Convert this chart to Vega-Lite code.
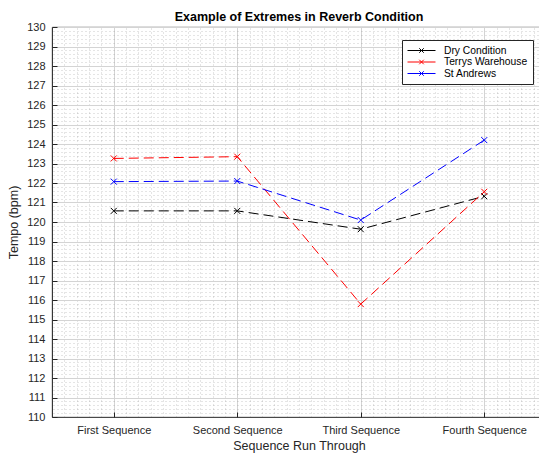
{
  "$schema": "https://vega.github.io/schema/vega-lite/v6.json",
  "width": 494,
  "height": 390,
  "autosize": {"type": "none"},
  "padding": {"left": 52, "top": 27, "right": 0, "bottom": 38},
  "config": {
    "font": "Liberation Sans",
    "view": {"stroke": "#262626", "strokeWidth": 0.8},
    "background": "white"
  },
  "title": {
    "text": "Example of Extremes in Reverb Condition",
    "fontSize": 12.5,
    "fontWeight": "bold",
    "font": "Liberation Sans",
    "color": "#000000",
    "anchor": "middle",
    "offset": -2
  },
  "data": {
    "values": [
      {"seq": 1, "series": "Dry Condition", "tempo": 120.57},
      {"seq": 2, "series": "Dry Condition", "tempo": 120.57},
      {"seq": 3, "series": "Dry Condition", "tempo": 119.63},
      {"seq": 4, "series": "Dry Condition", "tempo": 121.32},
      {"seq": 1, "series": "Terrys Warehouse", "tempo": 123.26},
      {"seq": 2, "series": "Terrys Warehouse", "tempo": 123.35},
      {"seq": 3, "series": "Terrys Warehouse", "tempo": 115.79},
      {"seq": 4, "series": "Terrys Warehouse", "tempo": 121.55},
      {"seq": 1, "series": "St Andrews", "tempo": 122.07},
      {"seq": 2, "series": "St Andrews", "tempo": 122.1},
      {"seq": 3, "series": "St Andrews", "tempo": 120.1},
      {"seq": 4, "series": "St Andrews", "tempo": 124.2}
    ]
  },
  "resolve": {"axis": {"x": "independent", "y": "independent"}},
  "layer": [
    {
      "mark": {"type": "point", "opacity": 0},
      "encoding": {
        "x": {
          "field": "seq", "type": "quantitative",
          "scale": {"domain": [0.5, 4.5], "nice": false, "zero": false},
          "axis": {"orient": "top", "grid": true, "gridDash": [1, 3], "gridColor": "#8c8c8c", "gridOpacity": 0.45, "tickCount": 40, "labels": false, "ticks": false, "domain": false, "title": null}
        },
        "y": {
          "field": "tempo", "type": "quantitative",
          "scale": {"domain": [110, 130], "nice": false, "zero": false},
          "axis": {"orient": "right", "grid": true, "gridDash": [1, 3], "gridColor": "#8c8c8c", "gridOpacity": 0.45, "tickCount": 100, "labels": false, "ticks": false, "domain": false, "title": null}
        }
      }
    },
    {
      "mark": {"type": "line", "strokeDash": [10, 5], "strokeWidth": 1},
      "encoding": {
        "x": {
          "field": "seq", "type": "quantitative",
          "scale": {"domain": [0.5, 4.5], "nice": false, "zero": false},
          "axis": {
            "orient": "bottom",
            "values": [1, 2, 3, 4],
            "labelExpr": "['', 'First Sequence', 'Second Sequence', 'Third Sequence', 'Fourth Sequence'][datum.value]",
            "grid": true, "gridColor": "#d4d4d4", "gridWidth": 1,
            "tickSize": -5, "tickColor": "#262626", "domainColor": "#262626", "domainWidth": 0.8,
            "labelFontSize": 11, "labelColor": "#262626", "labelPadding": 12,
            "title": "Sequence Run Through", "titleFontSize": 12.5, "titleFontWeight": "normal", "titleColor": "#262626", "titlePadding": 4
          }
        },
        "y": {
          "field": "tempo", "type": "quantitative",
          "scale": {"domain": [110, 130], "nice": false, "zero": false},
          "axis": {
            "orient": "left",
            "values": [110,111,112,113,114,115,116,117,118,119,120,121,122,123,124,125,126,127,128,129,130],
            "grid": true, "gridColor": "#d4d4d4", "gridWidth": 1,
            "tickSize": -5, "tickColor": "#262626", "domainColor": "#262626", "domainWidth": 0.8,
            "labelFontSize": 11, "labelColor": "#262626", "labelPadding": 12,
            "title": "Tempo (bpm)", "titleFontSize": 12.5, "titleFontWeight": "normal", "titleColor": "#262626", "titlePadding": 6
          }
        },
        "color": {
          "field": "series", "type": "nominal",
          "scale": {"domain": ["Dry Condition", "Terrys Warehouse", "St Andrews"], "range": ["#000000", "#ff0000", "#0000ff"]},
          "legend": {
            "title": null, "orient": "top-right", "offset": 13,
            "strokeColor": "#262626", "fillColor": "white", "padding": 5,
            "labelFontSize": 10.3, "labelColor": "#000000", "labelOffset": 17,
            "symbolType": "M-2.8,0L2.8,0M-0.45,-0.45L0.45,0.45M-0.45,0.45L0.45,-0.45",
            "symbolSize": 100, "symbolOffset": 9, "symbolStrokeWidth": 1, "rowPadding": 0.5
          }
        }
      }
    },
    {
      "mark": {"type": "point", "shape": "M-1,-1L1,1M-1,1L1,-1", "filled": false, "size": 36, "strokeWidth": 1, "opacity": 1},
      "encoding": {
        "x": {"field": "seq", "type": "quantitative", "axis": null},
        "y": {"field": "tempo", "type": "quantitative", "axis": null},
        "color": {"field": "series", "type": "nominal", "legend": null}
      }
    }
  ]
}
